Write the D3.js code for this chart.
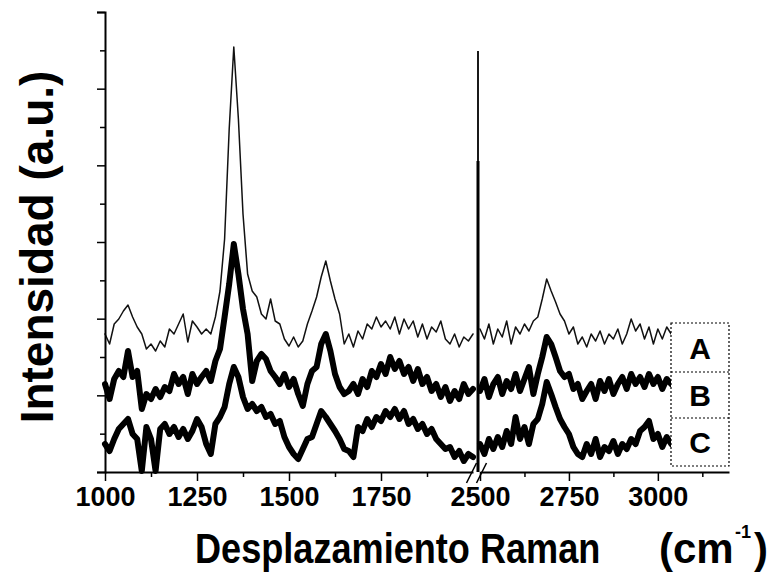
<!DOCTYPE html>
<html>
<head>
<meta charset="utf-8">
<script src="https://cdn.jsdelivr.net/npm/d3@7"></script>
<style>
  html, body { margin: 0; padding: 0; background: #fff; }
  svg { display: block; }
  text { font-family: "Liberation Sans", Arial, sans-serif; font-weight: bold; fill: #000; }
</style>
</head>
<body>
<svg id="chart" width="776" height="584"></svg>
<script>
// ---------------- DATA ----------------
// Raman shift grid (cm-1)
const shiftLeft = d3.range(1000, 2000.01, 12.5);   // 81 points
const shiftRight = d3.range(2500, 3037.51, 12.5);  // 44 points

// Intensities (a.u.) – left segment 1000–2000 cm-1
const seriesA_left = [138,128,148,153,161,167,155,145,138,123,128,121,131,125,143,138,148,158,130,151,
  145,138,143,138,155,181,233,343,425,353,258,198,181,175,158,153,173,151,148,133,
  126,135,125,131,148,161,175,195,211,191,173,158,128,138,125,141,133,148,143,155,
  145,151,143,155,138,153,143,151,135,148,133,145,140,151,133,128,138,125,135,131,138];
const seriesB_left = [88,73,93,101,95,121,95,101,63,78,73,83,75,85,81,98,88,95,78,98,
  88,95,101,91,111,123,155,188,228,198,163,138,91,111,118,113,101,95,88,98,
  85,93,78,66,88,101,105,128,138,121,98,85,78,81,88,78,93,85,101,95,
  108,98,115,103,111,98,105,91,103,88,95,81,88,75,85,71,81,73,88,78,83];
const seriesC_left = [28,21,33,43,48,53,38,33,1,45,33,1,43,48,38,45,35,43,33,41,
  53,45,28,18,48,55,65,88,105,95,75,63,68,61,65,55,58,48,51,35,
  25,18,13,23,33,35,48,61,55,48,41,33,23,21,15,45,41,53,45,55,
  51,61,55,63,53,61,48,53,43,48,38,43,33,28,23,25,15,21,11,18,15];

// Intensities (a.u.) – right segment 2500–3037.5 cm-1
const seriesA_right = [143,133,148,128,143,135,151,128,145,138,148,141,151,155,173,193,181,170,158,151,
  138,145,128,135,125,138,131,141,128,138,133,143,128,138,153,141,148,133,145,128,
  143,133,145,138];
const seriesB_right = [81,93,75,88,95,78,91,83,98,81,93,105,78,98,115,135,128,115,101,95,
  98,83,88,73,81,88,73,91,81,93,78,88,95,83,98,88,95,85,98,88,
  95,83,93,88];
const seriesC_right = [28,18,33,23,35,25,41,28,55,33,45,28,48,53,68,90,78,65,53,45,
  38,25,18,15,28,18,33,15,25,21,31,18,28,23,33,28,41,45,51,33,
  38,25,35,28];

// Sharp line at 2500 cm-1 (top of thin part, top of thick part)
const spikeShift = 2500;
const spikeTop = [421, 311];

// Tick values
const xMajorLeft = [1000, 1250, 1500, 1750];
const xMinorLeft = [1125, 1375, 1625, 1875];
const xMajorRight = [2500, 2750, 3000];
const xMinorRight = [2625, 2875, 3125];
const yTickStep = 460 / 12;
const yTicks = d3.range(0, 13).map(i => i * yTickStep);
const labels = ["A", "B", "C"];

// ---------------- CHART ----------------
const svg = d3.select("#chart");
const xLeft = d3.scaleLinear().domain([1000, 2000]).range([105, 473]);
const xRight = d3.scaleLinear().domain([2500, 3200]).range([480, 729]);
const y = d3.scaleLinear().domain([0, 460]).range([472, 12]);

function drawSeries(xs, vals, scale, width, color) {
  const line = d3.line().x((d, i) => scale(xs[i])).y(d => y(d)).curve(d3.curveLinear);
  svg.append("path").datum(vals).attr("d", line)
    .attr("fill", "none").attr("stroke", color).attr("stroke-width", width)
    .attr("stroke-linejoin", "round").attr("stroke-linecap", "round");
}

// spectra
drawSeries(shiftLeft, seriesA_left, xLeft, 1.5, "#111");
drawSeries(shiftRight, seriesA_right, xRight, 1.5, "#111");
drawSeries(shiftLeft, seriesB_left, xLeft, 6, "#000");
drawSeries(shiftRight, seriesB_right, xRight, 6, "#000");
drawSeries(shiftLeft, seriesC_left, xLeft, 6, "#000");
drawSeries(shiftRight, seriesC_right, xRight, 6, "#000");

// spike at 2500
svg.append("line").attr("x1", xRight(spikeShift) - 2).attr("x2", xRight(spikeShift) - 2)
  .attr("y1", y(0)).attr("y2", y(spikeTop[0])).attr("stroke", "#000").attr("stroke-width", 1.8);
svg.append("line").attr("x1", xRight(spikeShift) - 2).attr("x2", xRight(spikeShift) - 2)
  .attr("y1", y(0)).attr("y2", y(spikeTop[1])).attr("stroke", "#000").attr("stroke-width", 3);

// x axes
function xAxis(scale, major, minor) {
  const gMaj = svg.append("g").attr("transform", `translate(0,${y(0)})`)
    .call(d3.axisBottom(scale).tickValues(major).tickSize(9).tickSizeOuter(0).tickPadding(6).tickFormat(d3.format("d")));
  gMaj.select(".domain").attr("stroke-width", 2);
  gMaj.selectAll(".tick line").attr("stroke-width", 1.5);
  gMaj.selectAll(".tick text").style("font-size", "27px").style("font-family", "Liberation Sans, Arial, sans-serif").style("font-weight", "bold").attr("dy", "0.71em");
  const gMin = svg.append("g").attr("transform", `translate(0,${y(0)})`)
    .call(d3.axisBottom(scale).tickValues(minor).tickSize(5).tickSizeOuter(0).tickFormat(""));
  gMin.select(".domain").remove();
  gMin.selectAll(".tick line").attr("stroke-width", 1.5);
}
xAxis(xLeft, xMajorLeft, xMinorLeft);
xAxis(xRight, xMajorRight, xMinorRight);

// break marks
const bx = (xLeft(2000) + xRight(2500)) / 2;
[-5, 5].forEach(off => {
  svg.append("line").attr("x1", bx + off - 5).attr("y1", y(0) + 11)
    .attr("x2", bx + off + 5).attr("y2", y(0) - 9)
    .attr("stroke", "#000").attr("stroke-width", 1.5);
});

// y axis (no labels)
const gy = svg.append("g").attr("transform", `translate(${xLeft(1000)},0)`)
  .call(d3.axisLeft(y).tickValues(yTicks).tickSizeOuter(0).tickFormat("")
    .tickSize(8));
gy.select(".domain").attr("stroke-width", 2);
gy.selectAll(".tick line").attr("stroke-width", 1.5)
  .attr("x2", (d, i) => i % 2 === 0 ? -8 : -5);

// axis titles
svg.append("text").attr("transform", "translate(53,247) rotate(-90)")
  .attr("text-anchor", "middle").style("font-size", "46px").text("Intensidad (a.u.)");

svg.append("text").attr("transform", "translate(195,563) scale(0.86,1)").style("font-size", "42px")
  .text("Desplazamiento Raman");
svg.append("text").attr("x", 659).attr("y", 563).style("font-size", "42px").text("(cm");
svg.append("text").attr("x", 735).attr("y", 538).style("font-size", "18px").text("-1");
svg.append("text").attr("x", 754).attr("y", 563).style("font-size", "42px").text(")");

// label boxes
const boxX = 671, boxW = 58, boxTop = 323, boxBottom = 466;
const dividers = [372, 418];
svg.append("rect").attr("x", boxX).attr("y", boxTop).attr("width", boxW).attr("height", boxBottom - boxTop)
  .attr("fill", "#fff").attr("stroke", "#000").attr("stroke-width", 1.2).attr("stroke-dasharray", "2,2");
dividers.forEach(dy => svg.append("line").attr("x1", boxX).attr("x2", boxX + boxW)
  .attr("y1", dy).attr("y2", dy).attr("stroke", "#000").attr("stroke-width", 1.2).attr("stroke-dasharray", "2,2"));
const cells = [boxTop, dividers[0], dividers[1], boxBottom];
labels.forEach((l, i) => {
  svg.append("text").attr("x", boxX + boxW / 2).attr("y", (cells[i] + cells[i + 1]) / 2 + 11)
    .attr("text-anchor", "middle").style("font-size", "30px").text(l);
});
</script>
</body>
</html>
